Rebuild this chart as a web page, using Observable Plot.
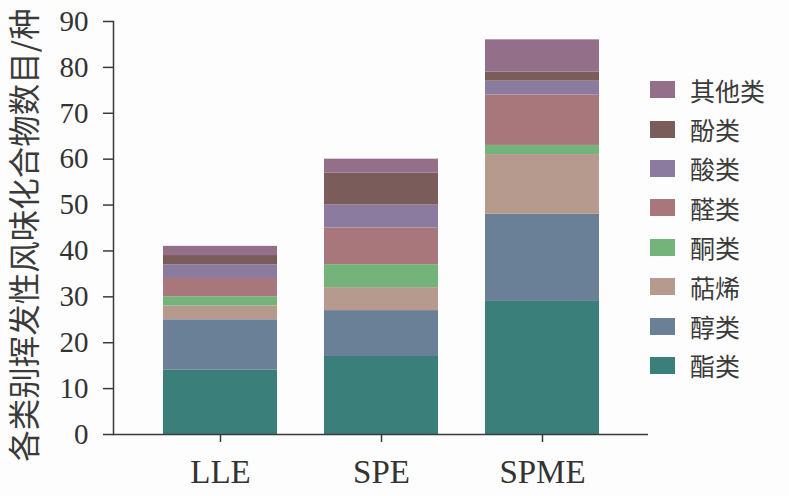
<!DOCTYPE html>
<html>
<head>
<meta charset="utf-8">
<script src="https://cdn.jsdelivr.net/npm/d3@7"></script>
<script src="https://cdn.jsdelivr.net/npm/@observablehq/plot@0.6"></script>
<style>
  html, body { margin: 0; padding: 0; background: #fdfdfd; }
  #wrap { position: relative; width: 789px; height: 496px; overflow: hidden; }
  #legend { position: absolute; left: 650px; top: 70px; font-family: "Noto Sans CJK SC", sans-serif; font-size: 25px; color: #3a3a3a; }
  .item { display: flex; align-items: center; height: 39.4px; }
  .sw { width: 25px; height: 17px; margin-right: 15px; }
  #ylabel { position: absolute; left: 22px; top: 235px; transform: translate(-50%, -50%) rotate(-90deg); white-space: nowrap;
            font-family: "Noto Sans CJK SC", sans-serif; font-size: 31.5px; color: #3a3a3a; }
  .xax text { font-size: 33px; }
  .yax text { font-size: 29px; }
</style>
</head>
<body>
<div id="wrap"></div>
<script>
const methods = ["LLE", "SPE", "SPME"];
const categories = ["酯类", "醇类", "萜烯", "酮类", "醛类", "酸类", "酚类", "其他类"];
const colors = ["#3b7f7b", "#6a8096", "#b69a8e", "#74b47b", "#a8777b", "#8b7b9f", "#7a5d5b", "#946f8a"];
const values = {
  "酯类":   [14, 17, 29],
  "醇类":   [11, 10, 19],
  "萜烯":   [3, 5, 13],
  "酮类":   [2, 5, 2],
  "醛类":   [4, 8, 11],
  "酸类":   [3, 5, 3],
  "酚类":   [2, 7, 2],
  "其他类": [2, 3, 7]
};
const yTicks = [0, 10, 20, 30, 40, 50, 60, 70, 80, 90];
const yLabel = "各类别挥发性风味化合物数目/种";

const data = [];
categories.forEach(c => methods.forEach((m, i) => data.push({method: m, category: c, value: values[c][i]})));

const axisColor = "#3a3a3a";
const chart = Plot.plot({
  width: 789,
  height: 496,
  marginLeft: 113,
  marginRight: 141,
  marginTop: 21,
  marginBottom: 62,
  style: { background: "transparent", fontFamily: "'Liberation Serif', serif", fontSize: "30px", color: "#333" },
  x: { domain: methods, paddingInner: 0.294, paddingOuter: 0.303, label: null },
  y: { domain: [0, 90], label: null },
  color: { domain: categories, range: colors },
  marks: [
    Plot.barY(data, { x: "method", y: "value", fill: "category", order: categories, inset: 0 }),
    Plot.axisY({ ticks: yTicks, tickSize: 10, tickPadding: 15, stroke: axisColor, strokeWidth: 1.5, fill: "#333", label: null, className: "yax" }),
    Plot.axisX({ tickSize: 8, tickPadding: 17, stroke: axisColor, strokeWidth: 1.5, fill: "#333", label: null, className: "xax" }),
    Plot.frame({ anchor: "left", stroke: axisColor, strokeWidth: 1.5 }),
    Plot.ruleY([0], { stroke: axisColor, strokeWidth: 1.5 })
  ]
});
const wrap = document.getElementById("wrap");
wrap.appendChild(chart);

const yl = document.createElement("div");
yl.id = "ylabel";
yl.textContent = yLabel;
wrap.appendChild(yl);

const legend = document.createElement("div");
legend.id = "legend";
categories.slice().reverse().forEach(c => {
  const row = document.createElement("div");
  row.className = "item";
  const sw = document.createElement("div");
  sw.className = "sw";
  sw.style.background = colors[categories.indexOf(c)];
  const t = document.createElement("span");
  t.textContent = c;
  row.appendChild(sw);
  row.appendChild(t);
  legend.appendChild(row);
});
wrap.appendChild(legend);
</script>
</body>
</html>
